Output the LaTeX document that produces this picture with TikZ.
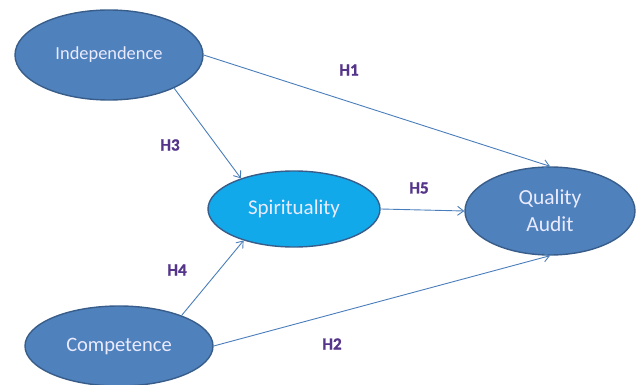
\documentclass[tikz,border=0pt]{standalone}
\usepackage{fontspec}
\setmainfont{Carlito}
\newfontfamily\heavyfont{Carlito}[BoldFeatures={FakeBold=1.3}]
\usetikzlibrary{shapes.geometric,arrows.meta}
\definecolor{nodefill}{HTML}{4F81BD}
\definecolor{nodeline}{HTML}{385D8A}
\definecolor{midfill}{HTML}{12A9EA}
\definecolor{edgecol}{HTML}{4A7EBB}
\definecolor{labcol}{HTML}{55358A}
\tikzset{
  construct/.style={ellipse, draw=nodeline, line width=1.4pt, fill=nodefill,
    text=white!92!blue, align=center, inner sep=0pt},
  path/.style={draw=edgecol, line width=0.9pt,
    -{Straight Barb[length=6pt,width=9pt,line width=0.9pt]}},
  hyp/.style={font=\heavyfont\bfseries\fontsize{17}{17}\selectfont, text=labcol, inner sep=0pt}
}
\begin{document}
\begin{tikzpicture}[x=1pt,y=-1pt]
  \useasboundingbox (0,0) rectangle (638,385);
  % constructs
  \node[construct, minimum width=188pt, minimum height=90pt,
        font=\fontsize{18.4}{18.4}\selectfont] (ind) at (109,55) {Independence};
  \node[construct, minimum width=188pt, minimum height=80pt,
        font=\fontsize{20.5}{20.5}\selectfont] (comp) at (119,346) {Competence};
  \node[construct, fill=midfill, minimum width=172pt, minimum height=76pt,
        font=\fontsize{21}{21}\selectfont] (spi) at (294,209) {Spirituality};
  \node[construct, minimum width=170pt, minimum height=88pt,
        font=\fontsize{21.5}{27}\selectfont] (qa) at (550,211) {Quality\\Audit};
  % hypothesised paths
  \draw[path] (ind.east) -- (qa.north);
  \draw[path] (comp.east) -- (qa.south);
  \draw[path] (ind.-27) -- (spi.150);
  \draw[path] (comp.26) -- (spi.212);
  \draw[path] (spi.east) -- (qa.west);
  % hypothesis labels
  \node[hyp] (h1) at (349,70)  {H1};
  \node[hyp] (h2) at (332,344) {H2};
  \node[hyp] (h3) at (170,145) {H3};
  \node[hyp] (h4) at (177,270) {H4};
  \node[hyp] (h5) at (419,188) {H5};
\end{tikzpicture}
\end{document}
